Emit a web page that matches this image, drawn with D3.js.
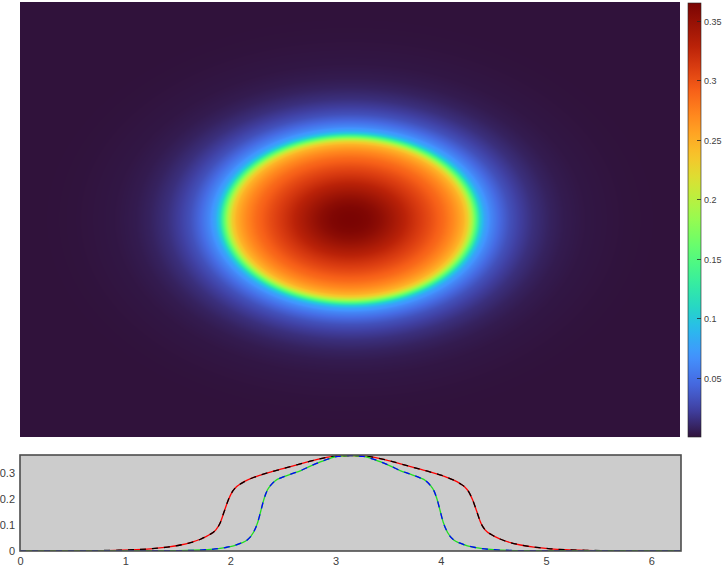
<!DOCTYPE html>
<html><head><meta charset="utf-8">
<script src="https://cdn.jsdelivr.net/npm/d3@7"></script>
<style>body{margin:0;background:#fff}svg{display:block}text{font-family:"Liberation Sans",Arial,sans-serif}</style>
</head><body>
<script>
// ---- data ----
const redX = [0, 0.5, 0.9, 1.1, 1.24, 1.4, 1.525, 1.62, 1.72, 1.8, 1.86, 1.9, 1.94, 1.98, 2.02, 2.06, 2.1, 2.16, 2.25, 2.38, 2.5, 2.64, 2.76, 2.86, 2.96, 3.05, 3.1416,
  3.233, 3.323, 3.423, 3.523, 3.643, 3.783, 3.903, 4.033, 4.123, 4.183, 4.223, 4.263, 4.303, 4.343, 4.383, 4.423, 4.483, 4.563, 4.663, 4.758, 4.883, 5.043, 5.183, 5.383, 5.783, 6.2832];
const redV = [0.0003, 0.0009, 0.0026, 0.005, 0.0085, 0.015, 0.023, 0.032, 0.046, 0.062, 0.08, 0.105, 0.15, 0.195, 0.228, 0.247, 0.258, 0.271, 0.286, 0.302, 0.315, 0.331, 0.344, 0.354, 0.361, 0.364, 0.365,
  0.364, 0.361, 0.354, 0.344, 0.331, 0.315, 0.302, 0.286, 0.271, 0.258, 0.247, 0.228, 0.195, 0.15, 0.105, 0.08, 0.062, 0.046, 0.032, 0.023, 0.015, 0.0085, 0.005, 0.0026, 0.0009, 0.0003];
const blueX = [0, 0.8, 1.5, 1.78, 1.95, 2.03, 2.1, 2.16, 2.22, 2.26, 2.29, 2.32, 2.35, 2.38, 2.43, 2.48, 2.58, 2.67, 2.76, 2.86, 2.95, 3.02, 3.1416,
  3.263, 3.333, 3.423, 3.523, 3.613, 3.703, 3.803, 3.853, 3.903, 3.933, 3.963, 3.993, 4.023, 4.063, 4.123, 4.183, 4.253, 4.333, 4.503, 4.783, 5.483, 6.2832];
const blueV = [0.0002, 0.0004, 0.0015, 0.005, 0.013, 0.02, 0.03, 0.042, 0.072, 0.11, 0.155, 0.2, 0.232, 0.25, 0.27, 0.28, 0.295, 0.308, 0.325, 0.342, 0.355, 0.362, 0.365,
  0.362, 0.355, 0.342, 0.325, 0.308, 0.295, 0.28, 0.27, 0.25, 0.232, 0.2, 0.155, 0.11, 0.072, 0.042, 0.03, 0.02, 0.013, 0.005, 0.0015, 0.0004, 0.0002];
const xTicks = [0, 1, 2, 3, 4, 5, 6];
const yTicks = [0, 0.1, 0.2, 0.3];
const yTickLabels = ["0", "0.1", "0.2", "0.3"];
const cbTicks = [0.05, 0.1, 0.15, 0.2, 0.25, 0.3, 0.35];
const cbTickLabels = ["0.05", "0.1", "0.15", "0.2", "0.25", "0.3", "0.35"];
const colorDomain = [0.0005, 0.3648];

// ---- turbo colormap (true endpoints) ----
const turboLow = [[48,18,59],[64,64,162],[70,107,227],[66,148,255],[40,188,235]];
const stops = [];
turboLow.forEach((c,i)=>stops.push({t:i*16/255, c:d3.rgb(c[0],c[1],c[2])}));
for (let t=0.30; t<=0.9001; t+=0.05) stops.push({t, c:d3.rgb(d3.interpolateTurbo(t))});
stops.push({t:1, c:d3.rgb(122,4,3)});
const turboScale = d3.scaleLinear().domain(stops.map(s=>s.t)).range(stops.map(s=>s.c.formatRgb())).interpolate(d3.interpolateRgb).clamp(true);
const color = d3.scaleSequential(t=>turboScale(t)).domain(colorDomain).clamp(true);

const W = 724, H = 569;
const svg = d3.select("body").append("svg").attr("width", W).attr("height", H);

// ---- heatmap ----
const hm = {x0:20, x1:680, y0:2, y1:437};
const hx = d3.scaleLinear().domain([0, 2*Math.PI]).range([hm.x0, hm.x1]);
const hy = d3.scaleLinear().domain([0, 2*Math.PI]).range([hm.y0, hm.y1]);
// radial profile from the horizontal cut (right half)
const rR = [], rV = [];
redX.forEach((x,i)=>{ if (x >= 3.14) { rR.push(x - Math.PI); rV.push(redV[i]); } });
rR[0] = 0;
const profile = d3.scaleLinear().domain(rR).range(rV).clamp(true);
const cw = hm.x1 - hm.x0, ch = hm.y1 - hm.y0;
const canvas = document.createElement("canvas");
canvas.width = cw; canvas.height = ch;
const ctx = canvas.getContext("2d");
const img = ctx.createImageData(cw, ch);
for (let j=0; j<ch; j++) {
  const yv = hy.invert(hm.y0 + j + 0.5);
  for (let i=0; i<cw; i++) {
    const xv = hx.invert(hm.x0 + i + 0.5);
    const r = Math.hypot(xv - Math.PI, yv - Math.PI);
    const c = d3.rgb(color(profile(r)));
    const k = (j*cw + i)*4;
    img.data[k]=c.r; img.data[k+1]=c.g; img.data[k+2]=c.b; img.data[k+3]=255;
  }
}
ctx.putImageData(img, 0, 0);
svg.append("image").attr("x", hm.x0).attr("y", hm.y0).attr("width", cw).attr("height", ch)
  .attr("preserveAspectRatio","none").attr("href", canvas.toDataURL());

// ---- colorbar ----
const cb = {x:688, w:13, y0:3, y1:437};
const cy = d3.scaleLinear().domain(colorDomain).range([cb.y1, cb.y0]);
const defs = svg.append("defs");
const grad = defs.append("linearGradient").attr("id","cbg").attr("x1",0).attr("y1",1).attr("x2",0).attr("y2",0);
d3.range(0, 1.0001, 0.02).forEach(t=>{
  grad.append("stop").attr("offset", t).attr("stop-color", color(colorDomain[0] + t*(colorDomain[1]-colorDomain[0])));
});
svg.append("rect").attr("x", cb.x).attr("y", cb.y0).attr("width", cb.w).attr("height", cb.y1-cb.y0).attr("fill","url(#cbg)")
  .attr("stroke","#262626").attr("stroke-width",0.6);
const cbG = svg.append("g");
cbTicks.forEach((v,i)=>{
  const yy = Math.round(cy(v))+0.5;
  cbG.append("line").attr("x1", cb.x+cb.w-4).attr("x2", cb.x+cb.w).attr("y1", yy).attr("y2", yy).attr("stroke","#262626").attr("stroke-width",0.8);
  cbG.append("text").attr("x", cb.x+cb.w+3).attr("y", yy).attr("dy","0.35em").attr("font-size","9px").attr("fill","#404040").text(cbTickLabels[i]);
});

// ---- profile panel ----
const pn = {x0:20, x1:681, y0:455, y1:551};
const px = d3.scaleLinear().domain([0, 2*Math.PI]).range([pn.x0, pn.x1]);
const py = d3.scaleLinear().domain([0, 0.3675]).range([pn.y1, pn.y0]);
svg.append("rect").attr("x", pn.x0).attr("y", pn.y0).attr("width", pn.x1-pn.x0).attr("height", pn.y1-pn.y0).attr("fill","#cccccc");
defs.append("clipPath").attr("id","pclip").append("rect").attr("x", pn.x0).attr("y", pn.y0-1).attr("width", pn.x1-pn.x0).attr("height", pn.y1-pn.y0+1);
const line = d3.line().x(d=>px(d[0])).y(d=>py(d[1])).curve(d3.curveMonotoneX);
const redData = redX.map((x,i)=>[x, redV[i]]);
const blueData = blueX.map((x,i)=>[x, blueV[i]]);
const lg = svg.append("g").attr("clip-path","url(#pclip)").attr("fill","none").attr("stroke-width",1.3);
lg.append("path").attr("d", line(redData)).attr("stroke","#ff0000");
lg.append("path").attr("d", line(redData)).attr("stroke","#000000").attr("stroke-dasharray","6,6");
lg.append("path").attr("d", line(blueData)).attr("stroke","#22dd22");
lg.append("path").attr("d", line(blueData)).attr("stroke","#0000ff").attr("stroke-dasharray","6,6");
svg.append("rect").attr("x", pn.x0).attr("y", pn.y0).attr("width", pn.x1-pn.x0).attr("height", pn.y1-pn.y0)
  .attr("fill","none").attr("stroke","#4d4d4d").attr("stroke-width",1.6);

const xAxis = svg.append("g").attr("transform", `translate(0,${pn.y1})`)
  .call(d3.axisBottom(px).tickValues(xTicks).tickSize(0).tickPadding(6).tickFormat(d3.format("d")));
const yAxis = svg.append("g").attr("transform", `translate(${pn.x0},0)`)
  .call(d3.axisLeft(py).tickValues(yTicks).tickSize(0).tickPadding(5).tickFormat((d,i)=>yTickLabels[i]));
[xAxis, yAxis].forEach(a=>{
  a.select(".domain").remove();
  a.selectAll("text").attr("font-size","11px").attr("fill","#404040").attr("font-family","Liberation Sans, Arial, sans-serif");
});
</script>
</body></html>
